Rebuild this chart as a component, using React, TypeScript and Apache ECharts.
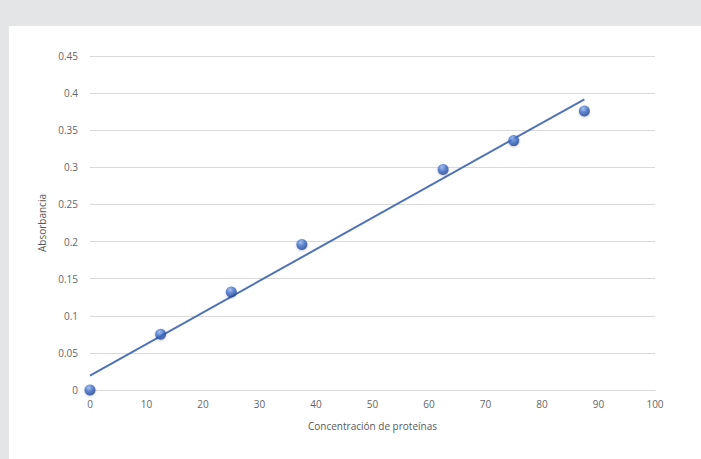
import React, { useEffect, useRef } from "react";
import * as echarts from "echarts";

const concentrations = [0, 12.5, 25, 37.5, 62.5, 75, 87.5];
const absorbances = [0, 0.075, 0.132, 0.196, 0.297, 0.336, 0.376];
const xTicks = [0, 10, 20, 30, 40, 50, 60, 70, 80, 90, 100];
const yTicks = [0, 0.05, 0.1, 0.15, 0.2, 0.25, 0.3, 0.35, 0.4, 0.45];

function regression(xs: number[], ys: number[]) {
  const n = xs.length;
  const mx = xs.reduce((a, b) => a + b, 0) / n;
  const my = ys.reduce((a, b) => a + b, 0) / n;
  let sxy = 0;
  let sxx = 0;
  for (let i = 0; i < n; i++) {
    sxy += (xs[i] - mx) * (ys[i] - my);
    sxx += (xs[i] - mx) * (xs[i] - mx);
  }
  const slope = sxy / sxx;
  return { slope, intercept: my - slope * mx };
}

export default function App() {
  const ref = useRef<HTMLDivElement>(null);
  useEffect(() => {
    if (!ref.current) return;
    const chart = echarts.init(ref.current, undefined, { renderer: "svg" });
    const { slope, intercept } = regression(concentrations, absorbances);
    const x0 = concentrations[0];
    const x1 = concentrations[concentrations.length - 1];
    const trend = [
      [x0, intercept + slope * x0],
      [x1, intercept + slope * x1],
    ];
    const font = "'Open Sans', sans-serif";
    chart.setOption({
      animation: false,
      backgroundColor: "#ffffff",
      graphic: [
        { type: "rect", left: 0, top: 0, shape: { width: 701, height: 26 }, style: { fill: "#e4e5e6" }, z: -1 },
        { type: "rect", left: 0, top: 0, shape: { width: 9, height: 459 }, style: { fill: "#e4e5e6" }, z: -1 },
      ],
      grid: { left: 90, right: 46, top: 56, bottom: 69 },
      xAxis: {
        type: "value",
        min: 0,
        max: 100,
        interval: 10,
        name: "Concentración de proteínas",
        nameLocation: "middle",
        nameGap: 31,
        nameTextStyle: { color: "#595959", fontSize: 10, fontFamily: font },
        axisLine: { show: true, lineStyle: { color: "#d9d9d9", width: 1 } },
        axisTick: { show: false },
        splitLine: { show: false },
        axisLabel: {
          color: "#666666",
          fontSize: 10,
          fontFamily: font,
          margin: 9,
          formatter: (v: number) => String(xTicks.find((k) => Math.abs(k - v) < 1e-9) ?? v),
        },
      },
      yAxis: {
        type: "value",
        min: 0,
        max: 0.45,
        interval: 0.05,
        name: "Absorbancia",
        nameLocation: "middle",
        nameGap: 43,
        nameTextStyle: { color: "#595959", fontSize: 10, fontFamily: font },
        axisLine: { show: false },
        axisTick: { show: false },
        splitLine: { show: true, lineStyle: { color: "#d9d9d9", width: 1 } },
        axisLabel: {
          color: "#666666",
          fontSize: 10,
          fontFamily: font,
          margin: 12,
          formatter: (v: number) => {
            const t = yTicks.find((k) => Math.abs(k - v) < 1e-9);
            return String(Number((t ?? v).toFixed(2)));
          },
        },
      },
      series: [
        {
          type: "line",
          data: trend,
          symbol: "none",
          lineStyle: { color: "#4f72b8", width: 2 },
          z: 2,
        },
        {
          type: "scatter",
          data: concentrations.map((c, i) => [c, absorbances[i]]),
          symbol: "circle",
          symbolSize: 11,
          itemStyle: {
            color: new echarts.graphic.RadialGradient(0.4, 0.3, 0.75, [
              { offset: 0, color: "#9ab8ee" },
              { offset: 0.45, color: "#3f6fcc" },
              { offset: 1, color: "#1f3d8a" },
            ]),
            shadowColor: "rgba(0,0,0,0.25)",
            shadowBlur: 2,
            shadowOffsetY: 1,
          },
          z: 3,
        },
      ],
    });
    return () => chart.dispose();
  }, []);
  return (
    <div
      ref={ref}
      style={{ position: "fixed", left: 0, top: 0, width: 701, height: 459 }}
    />
  );
}
